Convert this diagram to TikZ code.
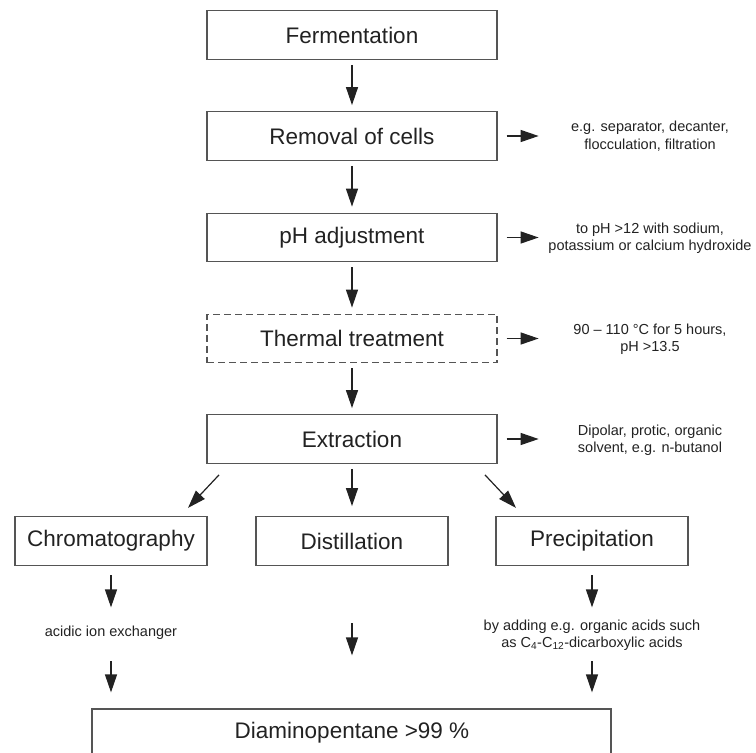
\documentclass[tikz,border=0pt]{standalone}
\usepackage{fontspec}
\setmainfont{Liberation Sans}
\usetikzlibrary{arrows.meta}
\definecolor{boxline}{HTML}{555555}
\definecolor{ink}{HTML}{222222}
\begin{document}
\begin{tikzpicture}[x=1pt,y=-1pt,
  mainbox/.style={draw=boxline,line width=1.3pt,minimum width=290pt,minimum height=48.5pt,
     inner sep=0pt,text=ink,font=\fontsize{22.5}{27}\selectfont},
  subbox/.style={mainbox,minimum width=192pt},
  dashbox/.style={mainbox,dash pattern=on 7pt off 4pt},
  note/.style={text=ink,align=center,inner sep=0pt,font=\fontsize{14.5}{17.5}\selectfont},
  arr/.style={draw=ink,line width=1.2pt,-{Triangle[length=18pt,width=12pt]}},
]
\useasboundingbox (0,0) rectangle (756,753);
% main column
\node[mainbox] (ferm) at (352,35) {Fermentation};
\node[mainbox] (rem) at (352,136) {Removal of cells};
\node[mainbox] (ph) at (352,237.5) {pH adjustment};
\node[dashbox] (therm) at (352,338.5) {Thermal treatment};
\node[mainbox] (ext) at (352,439) {Extraction};
% side notes
\node[note] (remn) at (650,136) {e.g. separator, decanter,\\flocculation, filtration};
\node[note] (phn) at (650,238) {to pH >12 with sodium,\\potassium or calcium hydroxide};
\node[note] (thermn) at (650,339) {90 – 110 °C for 5 hours,\\pH >13.5};
\node[note] (extn) at (650,440) {Dipolar, protic, organic\\solvent, e.g. n-butanol};
% vertical arrows
\foreach \a/\b in {ferm/rem,rem/ph,ph/therm,therm/ext}
  \draw[arr] ([yshift=-5pt]\a.south) -- ([yshift=6pt]\b.north);
% side arrows
\foreach \a in {rem,ph,therm,ext}
  \draw[arr] ([xshift=9pt]\a.east) -- ([xshift=41pt]\a.east);
% second level
\node[subbox] (chrom) at (111,541) {Chromatography};
\node[subbox] (dist) at (352,541) {Distillation};
\node[subbox] (prec) at (592,541) {Precipitation};
\draw[arr] ([shift={(-133,11)}]ext.south) -- ([shift={(-164,44)}]ext.south);
\draw[arr] ([yshift=-5pt]ext.south) -- ([yshift=10pt]dist.north);
\draw[arr] ([shift={(133,11)}]ext.south) -- ([shift={(164,44)}]ext.south);
% notes below
\node[note] (chromn) at (111,633) {acidic ion exchanger};
\node[note] (precn) at (592,635) {by adding e.g. organic acids such\\as C\textsubscript{4}-C\textsubscript{12}-dicarboxylic acids};
% final box
\node[text=ink,inner sep=0pt,font=\fontsize{22.5}{27}\selectfont] (dia) at (352,733) {Diaminopentane >99 \%};
\draw[draw=boxline,line width=1.3pt] (92,760) -- (92,709) -- (611,709) -- (611,760);
% lower arrows
\draw[arr] ([yshift=-9.5pt]chrom.south) -- ([yshift=-41.5pt]chrom.south);
\draw[arr] ([yshift=-95.5pt]chrom.south) -- ([yshift=-126.5pt]chrom.south);
\draw[arr] ([yshift=-57.5pt]dist.south) -- ([yshift=-89.5pt]dist.south);
\draw[arr] ([yshift=-9.5pt]prec.south) -- ([yshift=-41.5pt]prec.south);
\draw[arr] ([yshift=-95.5pt]prec.south) -- ([yshift=-126.5pt]prec.south);
\end{tikzpicture}
\end{document}
